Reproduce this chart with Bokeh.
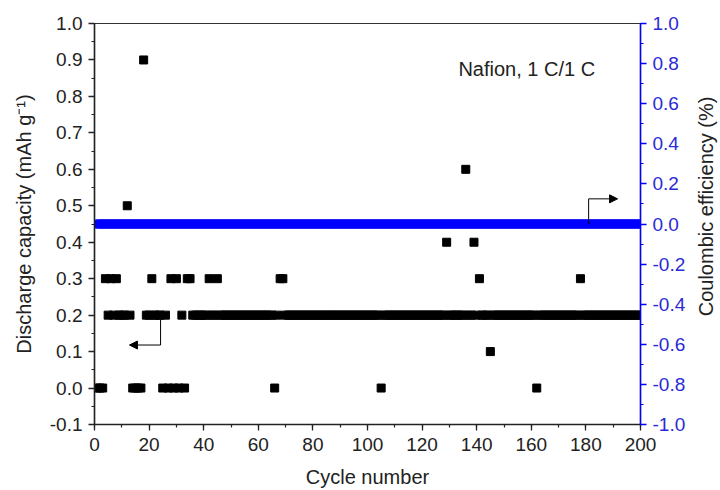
import math
from bokeh.plotting import figure
from bokeh.layouts import row
from bokeh.models import (Range1d, LinearAxis, SingleIntervalTicker, Arrow, NormalHead,
                          ColumnDataSource, Label, PrintfTickFormatter)
from bokeh.embed import file_html
from bokeh.resources import INLINE

# ---------------- data ----------------
cycles = list(range(1, 201))

capacity = [
    0.0, 0.0, 0.0, 0.3, 0.2, 0.3, 0.2, 0.3, 0.2, 0.2, 0.2, 0.5, 0.2, 0.0, 0.0, 0.0, 0.0, 0.9, 0.2, 0.2,   # 1-20
    0.3, 0.2, 0.2, 0.2, 0.0, 0.2, 0.0, 0.3, 0.0, 0.3, 0.0, 0.2, 0.0, 0.3, 0.3, 0.2, 0.2, 0.2, 0.2, 0.2,   # 21-40
    0.2, 0.3, 0.2, 0.2, 0.3, 0.2, 0.2, 0.2, 0.2, 0.2, 0.2, 0.2, 0.2, 0.2, 0.2, 0.2, 0.2, 0.2, 0.2, 0.2,   # 41-60
    0.2, 0.2, 0.2, 0.2, 0.2, 0.0, 0.2, 0.3, 0.3, 0.2, 0.2, 0.2, 0.2, 0.2, 0.2, 0.2, 0.2, 0.2, 0.2, 0.2,   # 61-80
    0.2, 0.2, 0.2, 0.2, 0.2, 0.2, 0.2, 0.2, 0.2, 0.2, 0.2, 0.2, 0.2, 0.2, 0.2, 0.2, 0.2, 0.2, 0.2, 0.2,   # 81-100
    0.2, 0.2, 0.2, 0.2, 0.0, 0.2, 0.2, 0.2, 0.2, 0.2, 0.2, 0.2, 0.2, 0.2, 0.2, 0.2, 0.2, 0.2, 0.2, 0.2,   # 101-120
    0.2, 0.2, 0.2, 0.2, 0.2, 0.2, 0.2, 0.2, 0.4, 0.2, 0.2, 0.2, 0.2, 0.2, 0.2, 0.6, 0.2, 0.2, 0.4, 0.2,   # 121-140
    0.3, 0.2, 0.2, 0.2, 0.1, 0.2, 0.2, 0.2, 0.2, 0.2, 0.2, 0.2, 0.2, 0.2, 0.2, 0.2, 0.2, 0.2, 0.2, 0.2,   # 141-160
    0.2, 0.0, 0.2, 0.2, 0.2, 0.2, 0.2, 0.2, 0.2, 0.2, 0.2, 0.2, 0.2, 0.2, 0.2, 0.2, 0.2, 0.3, 0.2, 0.2,   # 161-180
    0.2, 0.2, 0.2, 0.2, 0.2, 0.2, 0.2, 0.2, 0.2, 0.2, 0.2, 0.2, 0.2, 0.2, 0.2, 0.2, 0.2, 0.2, 0.2, 0.2,   # 181-200
]

coulombic = [
    0.0, 0.0, 0.0, 0.0, 0.0, 0.0, 0.0, 0.0, 0.0, 0.0, 0.0, 0.0, 0.0, 0.0, 0.0, 0.0, 0.0, 0.0, 0.0, 0.0,
    0.0, 0.0, 0.0, 0.0, 0.0, 0.0, 0.0, 0.0, 0.0, 0.0, 0.0, 0.0, 0.0, 0.0, 0.0, 0.0, 0.0, 0.0, 0.0, 0.0,
    0.0, 0.0, 0.0, 0.0, 0.0, 0.0, 0.0, 0.0, 0.0, 0.0, 0.0, 0.0, 0.0, 0.0, 0.0, 0.0, 0.0, 0.0, 0.0, 0.0,
    0.0, 0.0, 0.0, 0.0, 0.0, 0.0, 0.0, 0.0, 0.0, 0.0, 0.0, 0.0, 0.0, 0.0, 0.0, 0.0, 0.0, 0.0, 0.0, 0.0,
    0.0, 0.0, 0.0, 0.0, 0.0, 0.0, 0.0, 0.0, 0.0, 0.0, 0.0, 0.0, 0.0, 0.0, 0.0, 0.0, 0.0, 0.0, 0.0, 0.0,
    0.0, 0.0, 0.0, 0.0, 0.0, 0.0, 0.0, 0.0, 0.0, 0.0, 0.0, 0.0, 0.0, 0.0, 0.0, 0.0, 0.0, 0.0, 0.0, 0.0,
    0.0, 0.0, 0.0, 0.0, 0.0, 0.0, 0.0, 0.0, 0.0, 0.0, 0.0, 0.0, 0.0, 0.0, 0.0, 0.0, 0.0, 0.0, 0.0, 0.0,
    0.0, 0.0, 0.0, 0.0, 0.0, 0.0, 0.0, 0.0, 0.0, 0.0, 0.0, 0.0, 0.0, 0.0, 0.0, 0.0, 0.0, 0.0, 0.0, 0.0,
    0.0, 0.0, 0.0, 0.0, 0.0, 0.0, 0.0, 0.0, 0.0, 0.0, 0.0, 0.0, 0.0, 0.0, 0.0, 0.0, 0.0, 0.0, 0.0, 0.0,
    0.0, 0.0, 0.0, 0.0, 0.0, 0.0, 0.0, 0.0, 0.0, 0.0, 0.0, 0.0, 0.0, 0.0, 0.0, 0.0, 0.0, 0.0, 0.0, 0.0,
]

x_label = "Cycle number"
y_left_label = "Discharge capacity (mAh g\u207b\u00b9)"
y_right_label = "Coulombic efficiency (%)"
annotation_text = "Nafion, 1 C/1 C"

# annotation anchors (cycle, left-axis value)
annotation_pos = (133.3, 0.876)
left_arrow_corner = (24.2, 0.118)
left_arrow_start_y = 0.19
left_arrow_end_x = 12.8
right_arrow_corner = (181.0, 0.519)
right_arrow_start_y = 0.45
right_arrow_end_x = 191.6

FONT = "Liberation Sans"
BLUE = "#0000ff"
TXT = "#222222"

p = figure(width=688, height=490, output_backend="svg", toolbar_location=None,
           x_range=Range1d(0, 200), y_range=Range1d(-0.1, 1.0),
           min_border_left=94, min_border_right=48, min_border_top=23, min_border_bottom=66)
p.extra_y_ranges = {"ce": Range1d(-1.0, 1.0)}

p.xgrid.visible = False
p.ygrid.visible = False
p.outline_line_color = "#333333"
p.outline_line_width = 1.2
p.background_fill_color = "white"
p.border_fill_color = "white"

# blue coulombic efficiency markers
p.scatter(cycles, coulombic, y_range_name="ce", marker="square", size=8,
          fill_color=BLUE, line_color=BLUE)
# black discharge capacity markers
p.scatter(cycles, capacity, marker="square", size=8, fill_color="black", line_color="black")

# axes styling
def style_axis(ax, color, label_color):
    ax.axis_line_color = color
    ax.axis_line_width = 1.5
    ax.major_tick_line_color = color
    ax.minor_tick_line_color = color
    ax.major_tick_line_width = 1.3
    ax.minor_tick_line_width = 1.2
    ax.major_tick_in = 0
    ax.major_tick_out = 6
    ax.minor_tick_in = 0
    ax.minor_tick_out = 3
    ax.major_label_text_font = FONT
    ax.major_label_text_font_size = "19px"
    ax.major_label_text_color = label_color
    ax.axis_label_text_font = FONT
    ax.axis_label_text_font_size = "20px"
    ax.axis_label_text_font_style = "normal"
    ax.axis_label_text_color = TXT

xa = p.xaxis[0]
xa.ticker = SingleIntervalTicker(interval=20, num_minor_ticks=2)
xa.axis_label = x_label
style_axis(xa, "#222222", TXT)
xa.major_label_standoff = 7
xa.axis_label_standoff = 12

ya = p.yaxis[0]
ya.ticker = SingleIntervalTicker(interval=0.1, num_minor_ticks=2)
ya.formatter = PrintfTickFormatter(format="%.1f")
ya.axis_label = y_left_label
style_axis(ya, "#222222", TXT)
ya.major_label_standoff = 6
ya.axis_label_standoff = 12

ra = LinearAxis(y_range_name="ce", ticker=SingleIntervalTicker(interval=0.2, num_minor_ticks=2),
                formatter=PrintfTickFormatter(format="%.1f"))
style_axis(ra, BLUE, "#2a2ad6")
ra.major_label_standoff = 6
p.add_layout(ra, "right")

# annotation text
p.add_layout(Label(x=annotation_pos[0], y=annotation_pos[1], text=annotation_text, text_font=FONT,
                   text_font_size="20px", text_color=TXT, text_baseline="middle",
                   text_align="left"))

# arrows
seg_src = ColumnDataSource(dict(
    x0=[left_arrow_corner[0], right_arrow_corner[0]],
    y0=[left_arrow_start_y, right_arrow_start_y],
    x1=[left_arrow_corner[0], right_arrow_corner[0]],
    y1=[left_arrow_corner[1], right_arrow_corner[1]],
))
p.segment(x0="x0", y0="y0", x1="x1", y1="y1", source=seg_src, line_color="black", line_width=1)
p.add_layout(Arrow(x_start=left_arrow_corner[0], y_start=left_arrow_corner[1],
                   x_end=left_arrow_end_x, y_end=left_arrow_corner[1], line_width=1,
                   end=NormalHead(size=8, fill_color="black", line_color="black")))
p.add_layout(Arrow(x_start=right_arrow_corner[0], y_start=right_arrow_corner[1],
                   x_end=right_arrow_end_x, y_end=right_arrow_corner[1], line_width=1,
                   end=NormalHead(size=8, fill_color="black", line_color="black")))

# narrow side strip holding the right-axis title (reads bottom-to-top, as in the reference)
side = figure(width=30, height=490, output_backend="svg", toolbar_location=None,
              x_range=Range1d(0, 30), y_range=Range1d(490, 0),
              x_axis_location=None, y_axis_location=None, min_border=0)
side.grid.visible = False
side.outline_line_color = None
side.background_fill_color = "white"
side.border_fill_color = "white"
side.add_layout(Label(x=17, y=223.5, text=y_right_label, angle=math.pi / 2,
                      text_font=FONT, text_font_size="20px", text_color=TXT,
                      text_align="center", text_baseline="middle"))

layout = row(p, side, spacing=0)
open("out.html", "w").write(file_html(layout, INLINE))
